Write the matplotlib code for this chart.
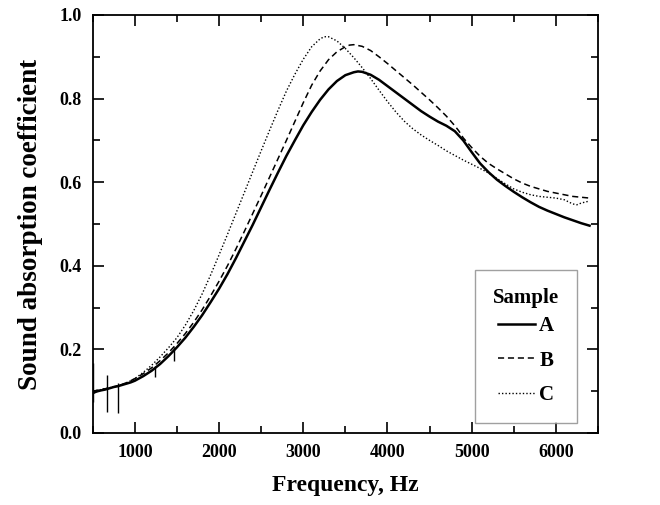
import matplotlib
matplotlib.use("Agg")
import matplotlib.pyplot as plt
from matplotlib.ticker import MultipleLocator

# Sample A (solid)
freq_a = [500, 530, 560, 600, 650, 700, 750, 800, 850, 900, 950, 1000, 1100, 1200, 1300,
          1400, 1500, 1600, 1700, 1800, 1900, 2000, 2100, 2200, 2300, 2400, 2500, 2600,
          2700, 2800, 2900, 3000, 3100, 3200, 3300, 3400, 3500, 3600, 3650, 3700, 3800,
          3900, 4000, 4100, 4200, 4300, 4400, 4500, 4600, 4700, 4800, 4900, 5000, 5100,
          5200, 5300, 5400, 5500, 5600, 5700, 5800, 5900, 6000, 6100, 6200, 6300, 6400]
alpha_a = [0.095, 0.098, 0.10, 0.102, 0.104, 0.107, 0.11, 0.112, 0.115, 0.118, 0.121, 0.125,
           0.136, 0.149, 0.165, 0.184, 0.205, 0.228, 0.254, 0.282, 0.313, 0.345, 0.38,
           0.418, 0.458, 0.498, 0.54, 0.582, 0.623, 0.663, 0.70, 0.736, 0.768, 0.797, 0.822,
           0.842, 0.856, 0.863, 0.865, 0.864, 0.857, 0.845, 0.83, 0.815, 0.80, 0.785, 0.77,
           0.757, 0.745, 0.735, 0.722, 0.70, 0.672, 0.645, 0.624, 0.606, 0.591, 0.577,
           0.564, 0.552, 0.541, 0.532, 0.524, 0.516, 0.509, 0.502, 0.496]

# measurement spikes on sample A: frequency, low and high ends
spike_f = [505, 668, 800, 1245, 1460]
spike_lo = [0.075, 0.051, 0.048, 0.135, 0.172]
spike_hi = [0.167, 0.139, 0.12, 0.16, 0.205]

# Sample B (dashed)
freq_b = [500, 600, 700, 800, 900, 1000, 1100, 1200, 1300, 1400, 1500, 1600, 1700, 1800,
          1900, 2000, 2100, 2200, 2300, 2400, 2500, 2600, 2700, 2800, 2900, 3000, 3100,
          3200, 3300, 3400, 3500, 3550, 3600, 3700, 3800, 3900, 4000, 4100, 4200, 4300,
          4400, 4500, 4600, 4700, 4800, 4850, 4900, 5000, 5100, 5200, 5300, 5400, 5500,
          5600, 5700, 5800, 5900, 6000, 6100, 6200, 6300, 6400]
alpha_b = [0.10, 0.104, 0.108, 0.113, 0.12, 0.13, 0.142, 0.156, 0.173, 0.192, 0.214, 0.238,
           0.265, 0.295, 0.328, 0.363, 0.40, 0.44, 0.482, 0.525, 0.568, 0.612, 0.656, 0.70,
           0.745, 0.79, 0.832, 0.866, 0.893, 0.912, 0.924, 0.928, 0.929, 0.925, 0.915, 0.90,
           0.884, 0.867, 0.85, 0.833, 0.815, 0.797, 0.778, 0.758, 0.735, 0.722, 0.706,
           0.683, 0.662, 0.645, 0.632, 0.62, 0.608, 0.598, 0.59, 0.584, 0.578, 0.574, 0.57,
           0.566, 0.564, 0.562]

# Sample C (dotted)
freq_c = [500, 600, 700, 800, 900, 1000, 1100, 1200, 1300, 1400, 1500, 1600, 1700, 1800,
          1900, 2000, 2100, 2200, 2300, 2400, 2500, 2600, 2700, 2800, 2900, 3000, 3100,
          3200, 3250, 3300, 3400, 3500, 3600, 3700, 3800, 3900, 4000, 4100, 4200, 4300,
          4400, 4500, 4600, 4700, 4800, 4900, 5000, 5100, 5200, 5300, 5400, 5500, 5600,
          5700, 5800, 5900, 6000, 6100, 6200, 6250, 6300, 6400]
alpha_c = [0.10, 0.104, 0.108, 0.113, 0.12, 0.13, 0.145, 0.162, 0.182, 0.204, 0.228, 0.258,
           0.293, 0.333, 0.378, 0.426, 0.475, 0.525, 0.575, 0.625, 0.675, 0.724, 0.772,
           0.818, 0.858, 0.894, 0.924, 0.943, 0.948, 0.948, 0.938, 0.92, 0.898, 0.874, 0.848,
           0.82, 0.793, 0.768, 0.746, 0.728, 0.713, 0.70, 0.688, 0.675, 0.664, 0.653, 0.643,
           0.633, 0.622, 0.609, 0.596, 0.584, 0.576, 0.57, 0.566, 0.564, 0.562, 0.558,
           0.548, 0.546, 0.55, 0.555]

x_ticks = [1000, 2000, 3000, 4000, 5000, 6000]
y_ticks = [0.0, 0.2, 0.4, 0.6, 0.8, 1.0]


def main():
    plt.rcParams['font.family'] = ['Liberation Serif', 'DejaVu Serif']
    plt.rcParams['font.weight'] = 'bold'

    fig = plt.figure(figsize=(6.6, 5.05), dpi=100)
    ax = fig.add_axes([0.1405, 0.1426, 0.7655, 0.8277])

    ax.plot(freq_a, alpha_a, color='black', lw=1.8, ls='-', label='A')
    ax.vlines(spike_f, spike_lo, spike_hi, color='black', lw=1.0)
    ax.plot(freq_b, alpha_b, color='black', lw=1.1, ls=(0, (4, 2.5)), label='B')
    ax.plot(freq_c, alpha_c, color='black', lw=1.0, ls=(0, (1, 1.5)), label='C')

    ax.set_xlim(500, 6500)
    ax.set_ylim(0, 1.0)
    ax.set_xticks(x_ticks)
    ax.set_yticks(y_ticks)
    ax.xaxis.set_minor_locator(MultipleLocator(500))
    ax.yaxis.set_minor_locator(MultipleLocator(0.1))
    ax.set_yticklabels(['%.1f' % v for v in y_ticks])
    ax.tick_params(which='both', direction='in', top=True, right=True, width=1.2,
                   labelsize=13, pad=8)
    ax.tick_params(which='major', length=8)
    ax.tick_params(which='minor', length=5)
    for s in ax.spines.values():
        s.set_linewidth(1.3)

    ax.set_xlabel('Frequency, Hz', fontsize=17, fontweight='bold', labelpad=10)
    ax.set_ylabel('Sound absorption coefficient', fontsize=19.5, fontweight='bold',
                  labelpad=12)

    leg = ax.legend(title='Sample', loc='lower right', fontsize=15, title_fontsize=15,
                    frameon=True, fancybox=False, edgecolor='#888888', handlelength=1.8,
                    handletextpad=0.2, borderpad=0.85, labelspacing=0.7,
                    borderaxespad=0, bbox_to_anchor=(0.958, 0.024))
    leg.get_title().set_fontweight('bold')
    leg.get_frame().set_linewidth(1.0)
    leg._legend_box.sep = 6

    fig.savefig('out.png', dpi=100)


if __name__ == '__main__':
    main()
